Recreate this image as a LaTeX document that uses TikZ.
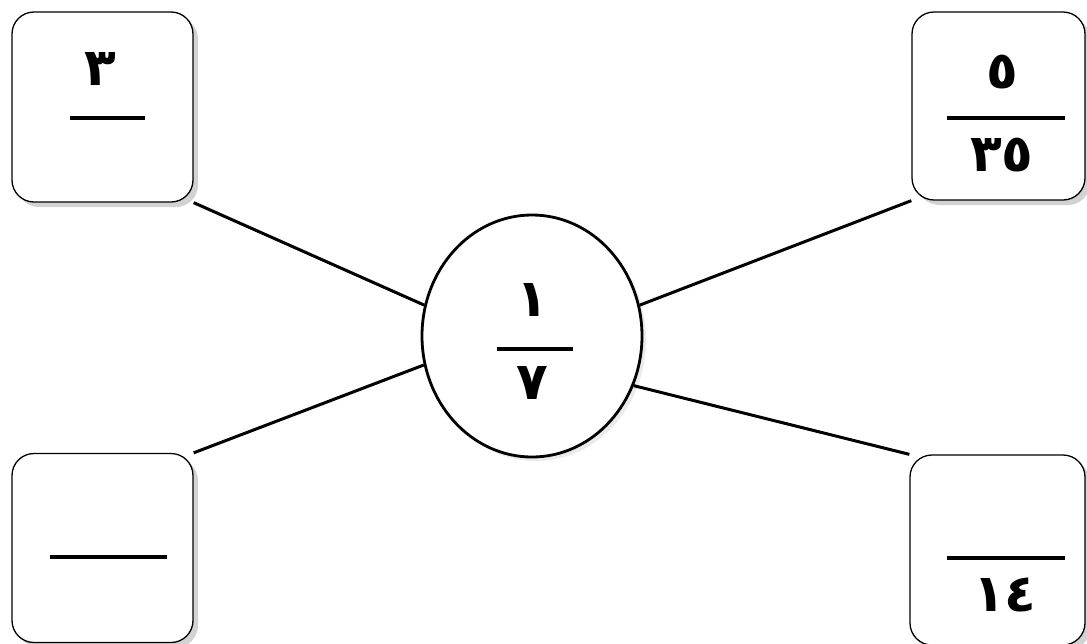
\documentclass[tikz,border=0pt]{standalone}
\usepackage{fontspec}
\newfontfamily\arabicfont[Script=Arabic]{DejaVu Sans}
\usetikzlibrary{shapes.geometric,shadows}
\tikzset{
  cardbox/.style={draw=black, line width=1.3pt, fill=white, rounded corners=22pt,
    drop shadow={shadow xshift=5pt, shadow yshift=-5pt, fill=black!35}},
  centreoval/.style={draw=black, line width=2.8pt, fill=white, ellipse,
    minimum width=220pt, minimum height=242pt, inner sep=0pt,
    drop shadow={shadow xshift=4pt, shadow yshift=-4pt, fill=black!15}},
  fracbar/.style={line width=4.2pt},
  link/.style={line width=3pt},
  digit/.style={font=\arabicfont\bfseries\fontsize{52}{58}\selectfont, inner sep=0pt}
}
\begin{document}
\begin{tikzpicture}[x=1pt,y=-1pt]
\useasboundingbox (0,0) rectangle (1087,643);
\fill[white] (0,0) rectangle (1087,643);
% boxes
\node[cardbox, minimum width=181pt, minimum height=190pt] (tl) at (102.5,107) {};
\node[cardbox, minimum width=173pt, minimum height=188pt] (tr) at (998.5,106) {};
\node[cardbox, minimum width=181pt, minimum height=189pt] (bl) at (102.5,548) {};
\node[cardbox, minimum width=175pt, minimum height=190pt] (br) at (997.5,550) {};
% centre
\node[centreoval] (c) at (532,336) {};
% connectors
\draw[link] (tl.south east) -- (c.164);
\draw[link] (bl.north east) -- (c.195);
\draw[link] (tr.south west) -- (c.16);
\draw[link] (br.north west) -- (c.334);
% fraction bars
\draw[fracbar] (70,118) -- (145,118);
\draw[fracbar] (947,118) -- (1065,118);
\draw[fracbar] (50,557) -- (167,557);
\draw[fracbar] (947,558) -- (1065,558);
\draw[fracbar] (497,349) -- (573,349);
% digits
\node[digit] (tln) at (100,69) {٣};
\node[digit] (trn) at (1002,72) {٥};
\node[digit] (trd) at (1002,155) {٣٥};
\node[digit] (brd) at (1005,595) {١٤};
\node[digit] (cn) at (532,300) {١};
\node[digit] (cd) at (532,383) {٧};
\end{tikzpicture}
\end{document}
